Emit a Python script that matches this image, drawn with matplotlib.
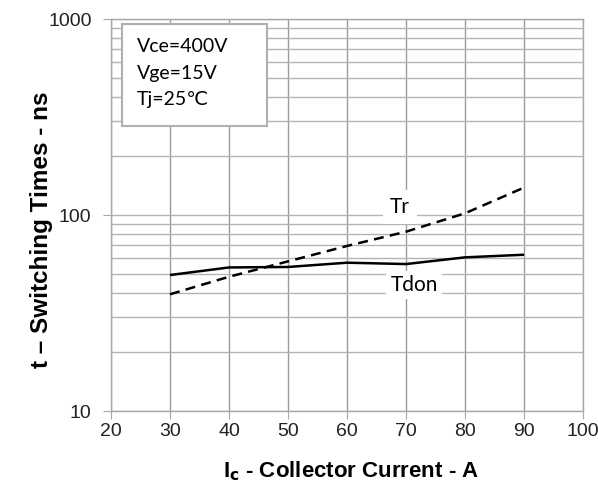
import matplotlib
matplotlib.use("Agg")
import matplotlib.pyplot as plt
from matplotlib.patches import Rectangle
from matplotlib.ticker import LogLocator, NullFormatter, FixedLocator

# values
current = [30, 40, 50, 60, 70, 80, 90]
tdon = [49.4, 54.0, 54.3, 57.1, 56.2, 60.8, 62.7]
tr = [39.4, 48.4, 58.0, 69.5, 82.2, 102.0, 138.0]
x_ticks = [20, 30, 40, 50, 60, 70, 80, 90, 100]
y_ticks = [10, 100, 1000]
conditions = ["Vce=400V", "Vge=15V", "Tj=25\u2103"]

W, H = 598, 497
fig = plt.figure(figsize=(W / 100, H / 100), dpi=100)
ax = fig.add_axes([111 / W, 1 - 411 / H, 472 / W, 392 / H])

ax.set_xlim(20, 100)
ax.set_yscale("log")
ax.set_ylim(10, 1000)

ax.xaxis.set_major_locator(FixedLocator(x_ticks))
ax.yaxis.set_major_locator(FixedLocator(y_ticks))
ax.yaxis.set_minor_locator(LogLocator(base=10, subs=range(2, 10)))
ax.yaxis.set_minor_formatter(NullFormatter())
ax.set_yticklabels([str(v) for v in y_ticks])

ax.grid(True, which="major", axis="x", color="#9a9a9a", lw=1.0)
ax.grid(True, which="both", axis="y", color="#b4b4b4", lw=1.0)
ax.set_axisbelow(True)

for s in ax.spines.values():
    s.set_color("#a8a8a8")
    s.set_linewidth(1.0)
ax.tick_params(which="major", length=6, color="#a8a8a8", labelsize=14,
               labelcolor="#222222")
ax.tick_params(axis="x", pad=3)
ax.tick_params(axis="y", pad=8)
ax.tick_params(which="minor", length=0)
for lab in ax.get_xticklabels() + ax.get_yticklabels():
    lab.set_family("Liberation Sans")

ax.plot(current, tdon, color="black", lw=1.8, solid_capstyle="butt")
ax.plot(current, tr, color="black", lw=1.8, ls=(0, (4, 2.5)))

lbl_font = ["Lato", "DejaVu Sans"]
ax.text(69.0, 110, "Tr", fontsize=15, family=lbl_font, ha="center", va="center",
        bbox=dict(facecolor="white", edgecolor="none", pad=5))
ax.text(71.4, 44, "Tdon", fontsize=15, family=lbl_font, ha="center", va="center",
        bbox=dict(facecolor="white", edgecolor="none", pad=3))

ax.add_patch(Rectangle((11 / 472, (411 - 126) / 392), 145 / 472, 102 / 392,
                       transform=ax.transAxes, facecolor="white",
                       edgecolor="#b0b0b0", lw=1.5, zorder=3))
for i, txt in enumerate(conditions):
    ax.text(26 / 472, (411 - 46.7 - 26.6 * i) / 392, txt, transform=ax.transAxes,
            fontsize=14, family=lbl_font, ha="left", va="center", zorder=4)

fig.text(42 / W, 1 - 230 / H, "t \u2013 Switching Times - ns", rotation=90,
         ha="center", va="center", fontsize=17.5, fontweight="bold",
         family="Liberation Sans")
fig.text(351 / W, 1 - 471 / H, "I$_\\mathbf{c}$ - Collector Current - A",
         ha="center", va="center", fontsize=16, fontweight="bold",
         family="Liberation Sans")

fig.savefig("out.png", dpi=100, facecolor="white")
